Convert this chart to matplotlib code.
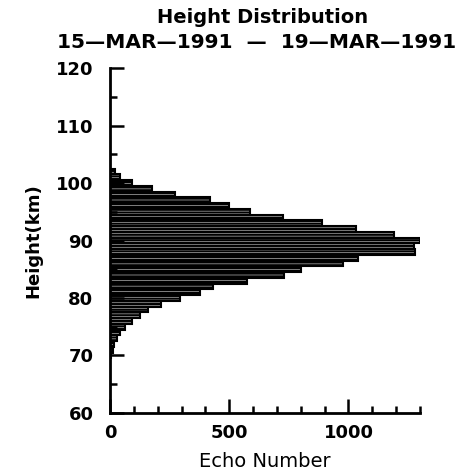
import numpy as np
import matplotlib
matplotlib.use("Agg")
import matplotlib.pyplot as plt
from matplotlib.ticker import MultipleLocator

# echo counts per 1 km height bin, 15-19 March 1991
heights = [70, 71, 72, 73, 74, 75, 76, 77, 78, 79, 80, 81, 82, 83, 84, 85, 86,
           87, 88, 89, 90, 91, 92, 93, 94, 95, 96, 97, 98, 99, 100, 101, 102]
counts = [5, 10, 15, 29, 42, 63, 92, 126, 160, 215, 294, 378, 433, 575, 730, 800, 975,
          1040, 1280, 1275, 1300, 1190, 1030, 890, 727, 588, 500, 420, 273, 176, 92, 42, 20]

title = "Height Distribution"
period = "15\u2014MAR\u20141991  \u2014  19\u2014MAR\u20141991"

plt.rcParams['font.family'] = 'DejaVu Sans'
plt.rcParams['hatch.linewidth'] = 1.65

fig = plt.figure(figsize=(4.57, 4.73), dpi=100)
ax = fig.add_axes([0.241, 0.127, 0.678, 0.729])

ax.barh(heights, counts, height=1.0, facecolor='white', edgecolor='black',
        hatch='------', linewidth=1.5)

ax.set_xlim(0, 1300)
ax.set_ylim(60, 120)

for side in ('top', 'right'):
    ax.spines[side].set_visible(False)
for side in ('left', 'bottom'):
    ax.spines[side].set_linewidth(2.0)

ax.xaxis.set_major_locator(MultipleLocator(500))
ax.xaxis.set_minor_locator(MultipleLocator(100))
ax.yaxis.set_major_locator(MultipleLocator(10))
ax.yaxis.set_minor_locator(MultipleLocator(5))
ax.tick_params(which='both', direction='in', width=1.8)
ax.tick_params(which='major', length=10, labelsize=13, pad=8)
ax.tick_params(which='minor', length=5)
ax.tick_params(axis='y', which='major', pad=12)
for lab in ax.get_xticklabels() + ax.get_yticklabels():
    lab.set_fontweight('bold')

ax.set_xlabel("Echo Number", fontsize=14, labelpad=7)
ax.set_ylabel("Height(km)", fontsize=13, fontweight='bold', labelpad=10)

fig.text(0.575, 0.962, title, ha='center', va='center', fontsize=14, fontweight='bold')
fig.text(0.562, 0.911, period, ha='center', va='center', fontsize=14.5, fontweight='bold')

fig.savefig("out.png", dpi=100)
